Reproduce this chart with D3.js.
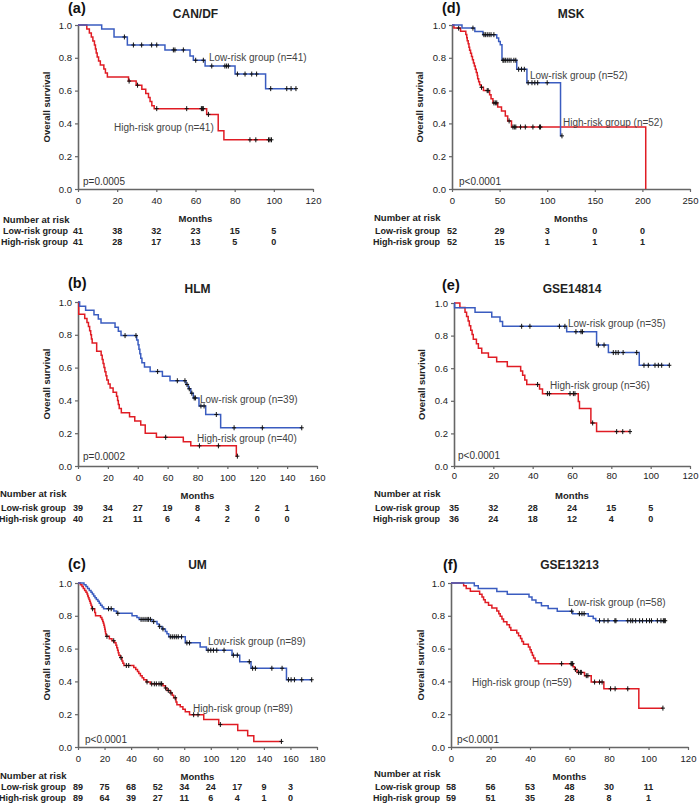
<!DOCTYPE html>
<html>
<head>
<meta charset="utf-8">
<script src="https://cdn.jsdelivr.net/npm/d3@7"></script>
<style>
  body { margin: 0; background: #fff; }
  svg { display: block; font-family: "Liberation Sans", Arial, sans-serif; }
</style>
</head>
<body>
<svg id="chart" width="700" height="803"></svg>
<script>
// ---- (a) CAN/DF ----
var ticksA = [0, 20, 40, 60, 80, 100, 120];
var lowStepsA = [[12.1,0.976],[18.4,0.927],[25.2,0.878],[44.4,0.848],[57.2,0.811],[58.9,0.785],[64.9,0.75],[80.2,0.701],[95.8,0.612]];
var lowCensorA = [23.7,28.3,32.5,37.6,40.2,48.7,49.5,53.8,60.1,64,68.3,75,75.9,76.8,81.4,85.3,88.7,91.2,98.4,106.6,108.8,111.3];
var highStepsA = [[4.5,0.976],[5.8,0.951],[6.8,0.927],[7.6,0.902],[8.4,0.878],[8.9,0.854],[9.3,0.829],[9.8,0.805],[10.5,0.78],[11.4,0.756],[13.2,0.732],[14,0.707],[15,0.683],[25.8,0.658],[29.7,0.633],[32.6,0.608],[34.6,0.583],[36,0.558],[36.8,0.533],[37.7,0.508],[38.9,0.49],[65.7,0.455],[71.6,0.355],[74.5,0.3]];
var highCensorA = [26.1,30.4,40.2,55.5,63,63.5,64,66.6,87.8,90.8,97.3,98,98.8];
var riskLowA = [41, 38, 32, 23, 15, 5];
var riskHighA = [41, 28, 17, 13, 5, 0];

// ---- (b) HLM ----
var ticksB = [0, 20, 40, 60, 80, 100, 120, 140, 160];
var lowStepsB = [[1.1,0.974],[5.1,0.949],[10.7,0.923],[13.6,0.897],[15.4,0.872],[24.8,0.846],[27,0.821],[28.8,0.795],[39.3,0.768],[40.2,0.74],[40.8,0.712],[41.4,0.685],[42,0.657],[42.8,0.63],[44.5,0.603],[48.3,0.576],[56.5,0.548],[61.6,0.52],[72.3,0.497],[73.9,0.471],[75.5,0.444],[77.2,0.415],[81,0.366],[85.5,0.314],[95.5,0.233]];
var lowCensorB = [31.5,38.8,53.3,66.5,71.6,73,74.5,76.2,77.8,78.6,82.3,84.4,92.6,104.5,123.4,149.8];
var highStepsB = [[0.5,0.925],[4.5,0.9],[6,0.875],[7,0.85],[7.8,0.825],[8.5,0.8],[9,0.775],[9.5,0.75],[12.5,0.7],[15.5,0.675],[16.2,0.65],[16.8,0.625],[17.4,0.6],[18,0.575],[18.7,0.55],[19.3,0.525],[20.3,0.5],[21.5,0.475],[23.5,0.45],[25.8,0.425],[26.5,0.4],[27,0.375],[27.6,0.35],[29,0.325],[34.5,0.3],[38,0.275],[42,0.25],[45,0.2],[52.5,0.175],[70.5,0.148],[75.5,0.123],[106,0.06]];
var highCensorB = [58.7,81.3,94,106.7];
var riskLowB = [39, 34, 27, 19, 8, 3, 2, 1];
var riskHighB = [40, 21, 11, 6, 4, 2, 0, 0];

// ---- (c) UM ----
var ticksC = [0, 20, 40, 60, 80, 100, 120, 140, 160, 180];
var lowStepsC = [[4.5,0.989],[6,0.978],[7.2,0.966],[8.5,0.955],[9.8,0.944],[10.8,0.933],[11.8,0.921],[12.8,0.91],[13.8,0.899],[15,0.888],[16,0.876],[17,0.865],[18.2,0.854],[19.3,0.843],[27,0.83],[29,0.815],[40.7,0.8],[44.4,0.79],[46,0.778],[55.7,0.765],[59.5,0.75],[61,0.735],[63.3,0.72],[65.8,0.705],[67,0.69],[68.3,0.672],[80.8,0.635],[92,0.61],[96.7,0.59],[116,0.56],[121.8,0.52],[130.3,0.48],[157,0.41]];
var lowCensorC = [23,25,30,47.5,49,50.5,52,53,54.5,57,61.5,64,69.5,71,72.5,74,75.5,78,82,84,98,100,102,104.5,110,117,120,129,131.5,133.6,146,153.7,158.5,160.5,163,168.5,176];
var highStepsC = [[1.8,0.989],[3,0.978],[4,0.966],[5,0.955],[6,0.944],[6.8,0.933],[7.3,0.921],[7.8,0.91],[8.3,0.899],[8.8,0.888],[9.3,0.876],[9.8,0.865],[10.3,0.854],[10.6,0.843],[12.6,0.82],[13.2,0.8],[17,0.789],[18,0.778],[18.6,0.766],[19.1,0.755],[19.5,0.743],[19.9,0.73],[20.2,0.718],[20.5,0.705],[20.8,0.69],[21.2,0.675],[23.6,0.66],[25.6,0.648],[27.5,0.635],[28.6,0.62],[29.2,0.605],[29.8,0.59],[30.3,0.575],[30.8,0.56],[31.8,0.545],[33.1,0.525],[33.8,0.51],[34.6,0.497],[42,0.485],[43.5,0.473],[44.8,0.46],[45.8,0.448],[47,0.435],[48.3,0.423],[49.5,0.41],[51.5,0.397],[54.5,0.385],[64,0.373],[65.8,0.36],[67,0.345],[69.5,0.33],[71,0.315],[72,0.3],[73.8,0.275],[74.5,0.258],[77,0.245],[79,0.23],[80.8,0.215],[84,0.197],[94.7,0.167],[106,0.137],[120.3,0.1],[127.8,0.068],[132.4,0.034]];
var highCensorC = [11,21.8,26.9,32.4,36.4,38.2,52,55.5,57.5,59,61,62.5,63,66,68,70,73.2,87.1,90.4,107.2,153.2];
var riskLowC = [89, 75, 68, 52, 34, 24, 17, 9, 3];
var riskHighC = [89, 64, 39, 27, 11, 6, 4, 1, 0];

// ---- (d) MSK ----
var ticksD = [0, 50, 100, 150, 200, 250];
var lowStepsD = [[10.5,0.981],[24,0.961],[32.5,0.941],[47,0.92],[49,0.9],[50.7,0.88],[52.5,0.785],[68,0.73],[78.7,0.648],[114,0.324]];
var lowCensorD = [22,33.5,35,37,39,41,44,53.5,54.5,56,58,60,62,65,67,70,73,76,80,84,87,90,100,115.5];
var highStepsD = [[2,0.981],[9,0.962],[14.5,0.942],[15.5,0.923],[16,0.904],[17,0.885],[17.8,0.865],[18.5,0.846],[19.5,0.827],[20.5,0.808],[21.5,0.788],[22.5,0.769],[23.5,0.75],[24.5,0.73],[25.5,0.711],[26.5,0.692],[27,0.673],[28,0.654],[29,0.635],[30.5,0.62],[33,0.6],[39.5,0.575],[41,0.55],[43,0.525],[48,0.5],[52,0.475],[56,0.445],[58.5,0.415],[62.5,0.378],[203.5,0]];
var highCensorD = [7,31,37,38,44,45.5,47,60,64,65.5,67,72,77,85,92,93];
var riskLowD = [52, 29, 3, 0, 0];
var riskHighD = [52, 15, 1, 1, 1];

// ---- (e) GSE14814 ----
var ticksE = [0, 20, 40, 60, 80, 100, 120];
var lowStepsE = [[0.3,0.971],[10.7,0.943],[19.2,0.914],[23.4,0.886],[24.7,0.857],[57.3,0.824],[72.5,0.742],[78.5,0.696],[94.2,0.618]];
var lowCensorE = [34.4,38.6,53.6,56.4,62,64.6,65.3,73.4,76.3,81,82.3,83.5,86,92.9,96.6,98.8,102.2,103.9,105.6,109.5];
var highStepsE = [[3,0.972],[5.6,0.944],[6.4,0.917],[7.2,0.889],[7.8,0.861],[8.5,0.833],[9.2,0.806],[9.8,0.778],[11.4,0.75],[12.4,0.722],[14.1,0.694],[17.5,0.667],[21.7,0.639],[27.1,0.611],[33.9,0.583],[34.9,0.556],[36,0.528],[37,0.5],[43.5,0.472],[45,0.444],[63.2,0.396],[63.8,0.352],[69.6,0.264],[72.5,0.211]];
var highCensorE = [42.5,47.5,48.5,59,60.7,61.5,70.5,82.7,85.8,89.5];
var riskLowE = [35, 32, 28, 24, 15, 5];
var riskHighE = [36, 24, 18, 12, 4, 0];

// ---- (f) GSE13213 ----
var ticksF = [0, 20, 40, 60, 80, 100, 120];
var lowStepsF = [[11.8,0.983],[13.8,0.966],[23.2,0.948],[28.5,0.931],[39.5,0.914],[41,0.896],[43,0.879],[45.8,0.862],[49.2,0.845],[53.8,0.828],[61.6,0.813],[69.5,0.797],[72,0.784],[73.3,0.77]];
var lowCensorF = [61.1,65,66.3,67.4,75.2,77.5,79.5,83,83.5,89.5,91,92,93.5,95.5,97,99,100.5,101.5,104.5,106.3,107.5,108,108.5];
var highStepsF = [[6.4,0.983],[7.7,0.966],[9.8,0.949],[14.5,0.932],[15.7,0.915],[16.5,0.898],[17.3,0.881],[19,0.864],[20.7,0.847],[23.2,0.83],[24.2,0.813],[24.9,0.797],[25.8,0.78],[26.6,0.763],[28.3,0.746],[29.6,0.729],[30.3,0.712],[33.3,0.695],[34.2,0.678],[35.2,0.661],[35.9,0.644],[36.7,0.627],[39.2,0.61],[40,0.593],[40.6,0.576],[41.2,0.559],[41.8,0.542],[42.6,0.525],[44.3,0.508],[61.8,0.49],[62.6,0.473],[63.8,0.455],[67.6,0.435],[71,0.396],[77.4,0.355],[95.1,0.237]];
var highCensorF = [56,60.8,61.2,61.6,63,64.6,65.5,66,68.5,69.3,72.7,75.2,76.5,80.8,83.1,89.5,107.3];
var riskLowF = [58, 56, 53, 48, 30, 11];
var riskHighF = [59, 51, 35, 28, 8, 1];

var survTicks = [0, 0.2, 0.4, 0.6, 0.8, 1.0];

var panels = [
    { tag: "(a)", title: "CAN/DF", ticks: ticksA, low: [lowStepsA, lowCensorA], high: [highStepsA, highCensorA], nLow: 41, nHigh: 41, p: "p=0.0005", riskLow: riskLowA, riskHigh: riskHighA },
    { tag: "(b)", title: "HLM", ticks: ticksB, low: [lowStepsB, lowCensorB], high: [highStepsB, highCensorB], nLow: 39, nHigh: 40, p: "p=0.0002", riskLow: riskLowB, riskHigh: riskHighB },
    { tag: "(c)", title: "UM", ticks: ticksC, low: [lowStepsC, lowCensorC], high: [highStepsC, highCensorC], nLow: 89, nHigh: 89, p: "p<0.0001", riskLow: riskLowC, riskHigh: riskHighC },
    { tag: "(d)", title: "MSK", ticks: ticksD, low: [lowStepsD, lowCensorD], high: [highStepsD, highCensorD], nLow: 52, nHigh: 52, p: "p<0.0001", riskLow: riskLowD, riskHigh: riskHighD },
    { tag: "(e)", title: "GSE14814", ticks: ticksE, low: [lowStepsE, lowCensorE], high: [highStepsE, highCensorE], nLow: 35, nHigh: 36, p: "p<0.0001", riskLow: riskLowE, riskHigh: riskHighE },
    { tag: "(f)", title: "GSE13213", ticks: ticksF, low: [lowStepsF, lowCensorF], high: [highStepsF, highCensorF], nLow: 58, nHigh: 59, p: "p<0.0001", riskLow: riskLowF, riskHigh: riskHighF }
];

// page layout for each panel (pixels)
var layout = [
    { x0: 78, x1: 313, y0: 25, y1: 189, tagX: 68, tagY: 13, titleY: 18, yLabX: 47, tickY: 204, monthsY: 221.5, narX: 3, narY: 223, rowX: 68, lowY: 233.5, highY: 245, lowLab: [209, 60.5], highLab: [114, 130.5], pLab: [83, 184.5] },
    { x0: 78, x1: 317, y0: 302, y1: 466, tagX: 68, tagY: 287.5, titleY: 292.5, yLabX: 47, tickY: 480.5, monthsY: 498.5, narX: 0, narY: 497, rowX: 66, lowY: 510.5, highY: 521.5, lowLab: [200, 402.5], highLab: [197, 441.5], pLab: [83, 459.5] },
    { x0: 78, x1: 317, y0: 583, y1: 747, tagX: 68, tagY: 569, titleY: 569, yLabX: 47, tickY: 762, monthsY: 779.5, narX: 0, narY: 778.5, rowX: 66, lowY: 790, highY: 801, lowLab: [208, 644.5], highLab: [193, 711.5], pLab: [85, 742.5] },
    { x0: 452, x1: 690, y0: 25, y1: 189, tagX: 442, tagY: 13, titleY: 18, yLabX: 420, tickY: 204, monthsY: 221.5, narX: 374, narY: 221, rowX: 440, lowY: 233.5, highY: 245, lowLab: [530, 78.5], highLab: [563, 125.5], pLab: [459, 184.5] },
    { x0: 454, x1: 690, y0: 303, y1: 466, tagX: 442, tagY: 290, titleY: 292.5, yLabX: 422, tickY: 478.5, monthsY: 498.5, narX: 374, narY: 497, rowX: 440, lowY: 510.5, highY: 521.5, lowLab: [568, 326.5], highLab: [550, 388.5], pLab: [458, 458.5] },
    { x0: 451, x1: 688, y0: 583, y1: 747, tagX: 443, tagY: 569.5, titleY: 569, yLabX: 421, tickY: 762, monthsY: 779.5, narX: 374, narY: 777, rowX: 440, lowY: 790, highY: 801, lowLab: [568, 605.5], highLab: [472, 685.5], pLab: [457, 742.5] }
];

var BLUE = "#3a5cc0", RED = "#e01c24", AXIS = "#666", TEXT = "#222";

var svg = d3.select("#chart");

function survAt(steps, t) {
    var s = 1;
    steps.forEach(function(d) { if (d[0] <= t) s = d[1]; });
    return s;
}

function drawCurve(g, x, y, series, color) {
    var steps = series[0], censor = series[1];
    var tEnd = Math.max(d3.max(censor), steps[steps.length - 1][0]);
    var pts = [[0, 1]].concat(steps).concat([[tEnd, steps[steps.length - 1][1]]]);
    var line = d3.line()
        .x(function(d) { return x(d[0]); })
        .y(function(d) { return y(d[1]); })
        .curve(d3.curveStepAfter);
    g.append("path")
        .datum(pts)
        .attr("d", line)
        .attr("fill", "none")
        .attr("stroke", color)
        .attr("stroke-width", 1.5);
    var marks = g.append("g").attr("stroke", "#111").attr("stroke-width", 1);
    censor.forEach(function(t) {
        var cx = x(t), cy = y(survAt(steps, t));
        marks.append("line").attr("x1", cx).attr("x2", cx).attr("y1", cy - 2.5).attr("y2", cy + 2.5);
        marks.append("line").attr("x1", cx - 2).attr("x2", cx + 2).attr("y1", cy).attr("y2", cy);
    });
}

panels.forEach(function(p, i) {
    var L = layout[i];
    var g = svg.append("g");
    var xMax = p.ticks[p.ticks.length - 1];
    var x = d3.scaleLinear().domain([0, xMax]).range([L.x0, L.x1]);
    var y = d3.scaleLinear().domain([0, 1]).range([L.y1, L.y0]);

    // axes
    var xa = g.append("g")
        .attr("transform", "translate(0," + L.y1 + ")")
        .call(d3.axisBottom(x).tickValues(p.ticks).tickSize(3).tickSizeOuter(0));
    xa.selectAll("text").attr("y", L.tickY - L.y1).attr("dy", 0);
    var ya = g.append("g")
        .attr("transform", "translate(" + L.x0 + ",0)")
        .call(d3.axisLeft(y).tickValues(survTicks).tickFormat(d3.format(".1f")).tickSize(3).tickSizeOuter(0));
    ya.selectAll("text").attr("x", -6);
    [xa, ya].forEach(function(a) {
        a.select(".domain").attr("stroke", AXIS).attr("stroke-width", 1.6);
        a.selectAll(".tick line").attr("stroke", AXIS).attr("stroke-width", 1.2);
        a.selectAll("text")
            .attr("fill", TEXT)
            .style("font-family", "'Liberation Sans', Arial, sans-serif")
            .style("font-size", "9.5px");
    });

    // curves
    drawCurve(g, x, y, p.high, RED);
    drawCurve(g, x, y, p.low, BLUE);

    // titles
    g.append("text").attr("x", L.tagX).attr("y", L.tagY)
        .attr("font-size", 14.5).attr("font-weight", "bold").attr("fill", "#111").text(p.tag);
    g.append("text").attr("x", (L.x0 + L.x1) / 2).attr("y", L.titleY)
        .attr("text-anchor", "middle").attr("font-size", 12).attr("font-weight", "bold").attr("fill", "#222").text(p.title);
    g.append("text")
        .attr("transform", "translate(" + L.yLabX + "," + (L.y0 + L.y1) / 2 + ") rotate(-90)")
        .attr("text-anchor", "middle").attr("dy", "0.35em")
        .attr("font-size", 9.5).attr("font-weight", "bold").attr("fill", "#222").text("Overall survival");
    g.append("text").attr("x", (L.x0 + L.x1) / 2).attr("y", L.monthsY)
        .attr("text-anchor", "middle").attr("font-size", 9.5).attr("font-weight", "bold").attr("fill", "#222").text("Months");

    // annotations
    g.append("text").attr("x", L.lowLab[0]).attr("y", L.lowLab[1])
        .attr("font-size", 10).attr("fill", "#444").text("Low-risk group (n=" + p.nLow + ")");
    g.append("text").attr("x", L.highLab[0]).attr("y", L.highLab[1])
        .attr("font-size", 10).attr("fill", "#444").text("High-risk group (n=" + p.nHigh + ")");
    g.append("text").attr("x", L.pLab[0]).attr("y", L.pLab[1])
        .attr("font-size", 10).attr("fill", "#333").text(p.p);

    // number at risk table
    g.append("text").attr("x", L.narX).attr("y", L.narY)
        .attr("font-size", 9.5).attr("font-weight", "bold").attr("fill", "#222").text("Number at risk");
    g.append("text").attr("x", L.rowX).attr("y", L.lowY).attr("text-anchor", "end")
        .attr("font-size", 9).attr("font-weight", "bold").attr("fill", "#222").text("Low-risk group");
    g.append("text").attr("x", L.rowX).attr("y", L.highY).attr("text-anchor", "end")
        .attr("font-size", 9).attr("font-weight", "bold").attr("fill", "#222").text("High-risk group");
    [[p.riskLow, L.lowY], [p.riskHigh, L.highY]].forEach(function(row) {
        g.append("g").selectAll("text")
            .data(row[0])
            .join("text")
            .attr("x", function(d, j) { return x(p.ticks[j]); })
            .attr("y", row[1])
            .attr("text-anchor", "middle")
            .attr("font-size", 9).attr("font-weight", "bold").attr("fill", "#222")
            .text(function(d) { return d; });
    });
});
</script>
</body>
</html>
